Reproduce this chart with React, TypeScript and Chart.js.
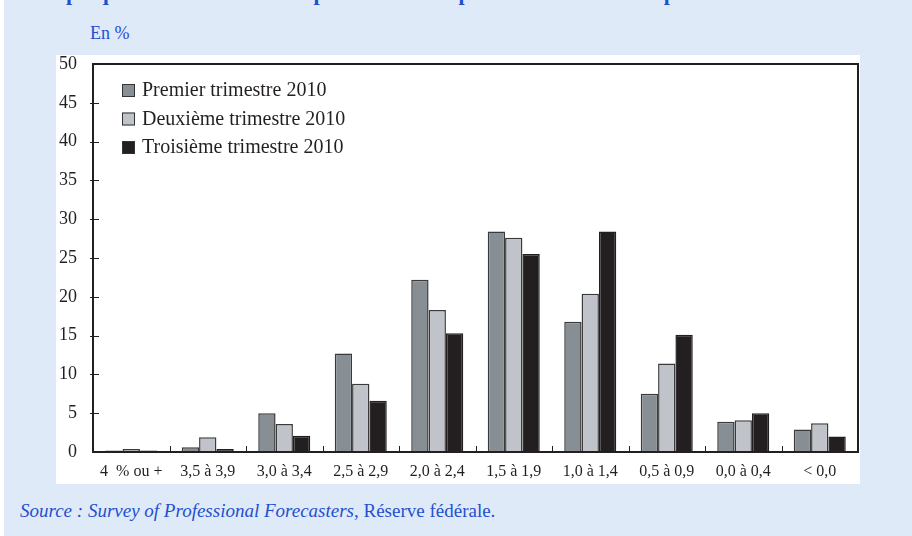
import React, { useEffect, useRef } from "react";
import { Chart, registerables } from "chart.js";

Chart.register(...registerables);

const categories = [
  "4  % ou +",
  "3,5 à 3,9",
  "3,0 à 3,4",
  "2,5 à 2,9",
  "2,0 à 2,4",
  "1,5 à 1,9",
  "1,0 à 1,4",
  "0,5 à 0,9",
  "0,0 à 0,4",
  "< 0,0",
];
const seriesNames = [
  "Premier trimestre 2010",
  "Deuxième trimestre 2010",
  "Troisième trimestre 2010",
];
const q1Values = [0.2, 0.6, 5.0, 12.7, 22.2, 28.4, 16.8, 7.5, 3.9, 2.9];
const q2Values = [0.4, 1.9, 3.6, 8.8, 18.3, 27.6, 20.4, 11.4, 4.1, 3.7];
const q3Values = [0.2, 0.4, 2.1, 6.6, 15.3, 25.5, 28.4, 15.1, 5.0, 2.0];
const seriesColors = ["#878e94", "#c0c3c9", "#231f20"];
const yMin = 0;
const yMax = 50;
const yStep = 5;

const titleText =
  "Graphique 3 : Distribution de probabilité des prévisions d’inflation pour 2011";
const unitText = "En %";
const sourceItalic = "Source : Survey of Professional Forecasters";
const sourceRest = ", Réserve fédérale.";

const SERIF = "'Liberation Serif', 'Times New Roman', serif";
const INK = "#231f20";
const BLUE = "#1f4fcf";

const framePlugin = {
  id: "frameAndTicks",
  afterDraw(chart: any) {
    const { ctx, chartArea } = chart;
    const x = chart.scales.x;
    const y = chart.scales.y;
    ctx.save();
    ctx.strokeStyle = INK;
    ctx.lineWidth = 1;
    // y ticks crossing the axis
    for (let v = yMin + yStep; v < yMax; v += yStep) {
      const py = Math.round(y.getPixelForValue(v)) + 0.5;
      ctx.beginPath();
      ctx.moveTo(chartArea.left - 3, py);
      ctx.lineTo(chartArea.left + 6, py);
      ctx.stroke();
    }
    // x ticks inward at category boundaries
    const n = chart.data.labels.length;
    for (let i = 1; i < n; i++) {
      const px =
        Math.round((x.getPixelForValue(i - 1) + x.getPixelForValue(i)) / 2) +
        0.5;
      ctx.beginPath();
      ctx.moveTo(px, chartArea.bottom);
      ctx.lineTo(px, chartArea.bottom - 6);
      ctx.stroke();
    }
    // frame
    ctx.lineWidth = 2;
    ctx.strokeRect(
      chartArea.left,
      chartArea.top,
      chartArea.right - chartArea.left,
      chartArea.bottom - chartArea.top
    );
    // legend
    ctx.font = `20px ${SERIF}`;
    ctx.textBaseline = "middle";
    ctx.textAlign = "left";
    chart.data.datasets.forEach((ds: any, i: number) => {
      const cy = chartArea.top + 26 + i * 28.5;
      const bx = chartArea.left + 29;
      ctx.fillStyle = ds.backgroundColor;
      ctx.fillRect(bx, cy - 6, 13, 13);
      ctx.lineWidth = 1;
      ctx.strokeStyle = "#333";
      ctx.strokeRect(bx + 0.5, cy - 5.5, 12, 12);
      ctx.fillStyle = INK;
      ctx.fillText(ds.label, bx + 20, cy + 1);
    });
    ctx.restore();
  },
};

function BarChart() {
  const ref = useRef<HTMLCanvasElement | null>(null);
  useEffect(() => {
    if (!ref.current) return;
    const valueSets = [q1Values, q2Values, q3Values];
    const chart = new Chart(ref.current, {
      type: "bar",
      data: {
        labels: categories,
        datasets: seriesNames.map((name, i) => ({
          label: name,
          data: valueSets[i],
          backgroundColor: seriesColors[i],
          borderColor: i === 2 ? seriesColors[i] : "#3a3a3a",
          borderWidth: 1.5,
          barPercentage: 1.0,
          categoryPercentage: 0.68,
        })),
      },
      options: {
        animation: false,
        responsive: false,
        maintainAspectRatio: false,
        devicePixelRatio: 1,
        layout: { padding: { top: 9, right: 2, left: 0, bottom: 0 } },
        plugins: {
          legend: { display: false },
          tooltip: { enabled: false },
          title: { display: false },
        },
        scales: {
          x: {
            type: "category",
            offset: true,
            grid: { display: false, drawTicks: false },
            border: { display: false },
            ticks: {
              autoSkip: false,
              maxRotation: 0,
              minRotation: 0,
              padding: 10,
              color: INK,
              font: { family: SERIF, size: 16 },
            },
            afterFit: (s: any) => {
              s.height = 32;
              s.paddingLeft = 0;
              s.paddingRight = 0;
            },
          },
          y: {
            min: yMin,
            max: yMax,
            grid: { display: false, drawTicks: false },
            border: { display: false },
            ticks: {
              stepSize: yStep,
              padding: 16,
              color: INK,
              font: { family: SERIF, size: 18 },
            },
            afterFit: (s: any) => {
              s.width = 37;
              s.paddingTop = 0;
              s.paddingBottom = 0;
            },
          },
        },
      },
      plugins: [framePlugin],
    });
    return () => chart.destroy();
  }, []);
  return <canvas ref={ref} width={804} height={429} style={{ display: "block" }} />;
}

export default function App() {
  return (
    <div
      style={{
        position: "fixed",
        left: 0,
        top: 0,
        width: 912,
        height: 536,
        background: "#ffffff",
        overflow: "hidden",
      }}
    >
      <div
        style={{
          position: "absolute",
          left: 4,
          top: 0,
          width: 908,
          height: 536,
          background: "#dfeaf8",
        }}
      />
      <div
        style={{
          position: "absolute",
          left: 28,
          top: -19,
          whiteSpace: "nowrap",
          fontFamily: SERIF,
          fontWeight: "bold",
          fontSize: 22,
          lineHeight: "24px",
          color: BLUE,
        }}
      >
        {titleText}
      </div>
      <div
        style={{
          position: "absolute",
          left: 90,
          top: 22,
          fontFamily: SERIF,
          fontSize: 18,
          lineHeight: "22px",
          color: BLUE,
        }}
      >
        {unitText}
      </div>
      <div
        style={{
          position: "absolute",
          left: 56,
          top: 55,
          width: 804,
          height: 429,
          background: "#ffffff",
        }}
      >
        <BarChart />
      </div>
      <div
        style={{
          position: "absolute",
          left: 20,
          top: 499,
          whiteSpace: "nowrap",
          fontFamily: SERIF,
          fontSize: 19,
          lineHeight: "24px",
          color: BLUE,
        }}
      >
        <i>{sourceItalic}</i>
        {sourceRest}
      </div>
    </div>
  );
}
